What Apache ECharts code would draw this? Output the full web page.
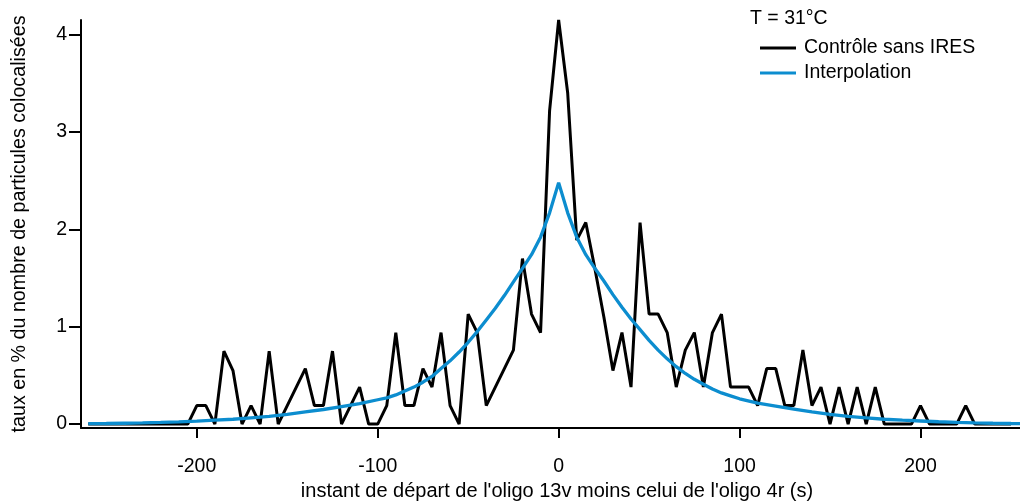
<!DOCTYPE html>
<html>
<head>
<meta charset="utf-8">
<script src="https://cdn.jsdelivr.net/npm/echarts@6/dist/echarts.min.js"></script>
<style>
html,body{margin:0;padding:0;background:#fff;}
#chart{width:1020px;height:502px;}
</style>
</head>
<body>
<div id="chart"></div>
<script>
// ---- data ----
const xTickValues = [-200, -100, 0, 100, 200];
const yTickValues = [0, 1, 2, 3, 4];

const controlName = 'Contrôle sans IRES';
const fitName = 'Interpolation';
const annotation = 'T = 31°C';
const xTitle = "instant de départ de l'oligo 13v moins celui de l'oligo 4r (s)";
const yTitle = 'taux en % du nombre de particules colocalisées';

const controlX = [-260,-255,-250,-245,-240,-235,-230,-225,-220,-215,-210,-205,
  -200,-195,-190,-185,-180,-175,-170,-165,-160,-155,-150,-145,-140,-135,-130,-125,
  -120,-115,-110,-105,-100,-95,-90,-85,-80,-75,-70,-65,-60,-55,-50,-45,-40,-35,-30,
  -25,-20,-15,-10,-5,0,5,10,15,20,25,30,35,40,45,50,55,60,65,70,75,80,85,90,95,100,
  105,110,115,120,125,130,135,140,145,150,155,160,165,170,175,180,185,190,195,200,
  205,210,215,220,225,230,235,240,245,250];
const controlY = [0,0,0,0,0,0,0,0,0,0,0,0,
  0.19,0.19,0,0.75,0.55,0,0.19,0,0.75,0,0.19,0.38,0.57,0.19,0.19,0.75,
  0,0.19,0.38,0,0,0.19,0.94,0.19,0.19,0.57,0.38,0.94,0.19,0,1.13,0.94,0.19,0.38,0.57,
  0.76,1.70,1.13,0.94,3.22,4.15,3.40,1.89,2.07,1.60,1.10,0.55,0.94,0.38,2.07,1.13,1.13,0.94,0.38,0.76,0.94,0.38,0.94,1.13,0.38,0.38,
  0.38,0.19,0.57,0.57,0.19,0.19,0.76,0.19,0.38,0,0.38,0,0.38,0,0.38,0,0,0,0,0.19,
  0,0,0,0,0.19,0,0,0,0,0];

const fitX = [-260,-250,-240,-230,-220,-210,-200,-190,-180,-170,-160,-150,-140,-130,-120,-110,
  -100,-95,-90,-85,-80,-75,-70,-65,-60,-55,-50,-45,-40,-35,-30,-25,-20,-15,-10,-5,0,
  5,10,15,20,25,30,35,40,45,50,55,60,65,70,75,80,85,90,95,100,
  110,120,130,140,150,160,170,180,190,200,210,220,230,240,250,255];
const fitY = [0.004,0.006,0.009,0.012,0.017,0.023,0.03,0.04,0.05,0.065,0.08,0.10,0.125,0.15,0.18,0.21,
  0.25,0.27,0.30,0.34,0.38,0.43,0.49,0.57,0.65,0.74,0.84,0.95,1.07,1.19,1.32,1.46,1.60,1.74,1.92,2.17,2.48,
  2.17,1.92,1.74,1.60,1.47,1.33,1.20,1.08,0.97,0.86,0.76,0.67,0.59,0.52,0.46,0.41,0.36,0.32,0.29,0.26,
  0.215,0.185,0.155,0.125,0.10,0.08,0.065,0.05,0.04,0.032,0.024,0.018,0.013,0.009,0.006,0.005];

// ---- chart ----
const font = 'Liberation Sans, Arial, sans-serif';
const pair = (xs, ys) => xs.map((x, i) => [x, ys[i]]);

const chart = echarts.init(document.getElementById('chart'), null, {renderer: 'canvas'});
chart.setOption({
  animation: false,
  backgroundColor: '#ffffff',
  textStyle: {fontFamily: font},
  grid: {left: 81, right: 0, top: 20, bottom: 74, containLabel: false, outerBoundsMode: 'none'},
  xAxis: {
    type: 'value', min: -264, max: 255,
    name: xTitle, nameLocation: 'middle', nameGap: 53,
    nameTextStyle: {color: '#000', fontSize: 20, fontFamily: font, padding: [0, 0, 0, 13]},
    axisLine: {show: true, onZero: false, lineStyle: {color: '#000', width: 2}},
    axisTick: {show: true, inside: false, length: 10, customValues: xTickValues, lineStyle: {color: '#000', width: 2}},
    axisLabel: {customValues: xTickValues, color: '#000', fontSize: 19.5, fontFamily: font, margin: 29},
    splitLine: {show: false}
  },
  yAxis: {
    type: 'value', min: -0.04, max: 4.15,
    name: yTitle, nameLocation: 'middle', nameGap: 51, nameRotate: 90,
    nameTextStyle: {color: '#000', fontSize: 19.7, fontFamily: font},
    axisLine: {show: true, onZero: false, lineStyle: {color: '#000', width: 2}},
    axisTick: {show: true, inside: false, length: 12, customValues: yTickValues, lineStyle: {color: '#000', width: 2}},
    axisLabel: {customValues: yTickValues, color: '#000', fontSize: 19.5, fontFamily: font, margin: 14},
    splitLine: {show: false}
  },
  legend: {
    orient: 'vertical', left: 760, top: 38, padding: 0,
    itemWidth: 36, itemHeight: 3, itemGap: 5, icon: 'rect',
    textStyle: {color: '#000', fontSize: 19.5, fontFamily: font, lineHeight: 20, padding: [0, 0, 0, 3]},
    data: [controlName, fitName]
  },
  graphic: [{
    type: 'text', left: 750, top: 9,
    style: {text: annotation, fill: '#000', font: '19.5px ' + font}
  }],
  series: [
    {name: controlName, type: 'line', data: pair(controlX, controlY), symbol: 'none',
     lineStyle: {color: '#000', width: 3}, itemStyle: {color: '#000'}, z: 2},
    {name: fitName, type: 'line', data: pair(fitX, fitY), symbol: 'none',
     lineStyle: {color: '#0c8dcf', width: 3.3}, itemStyle: {color: '#0c8dcf'}, z: 3}
  ]
});
</script>
</body>
</html>
